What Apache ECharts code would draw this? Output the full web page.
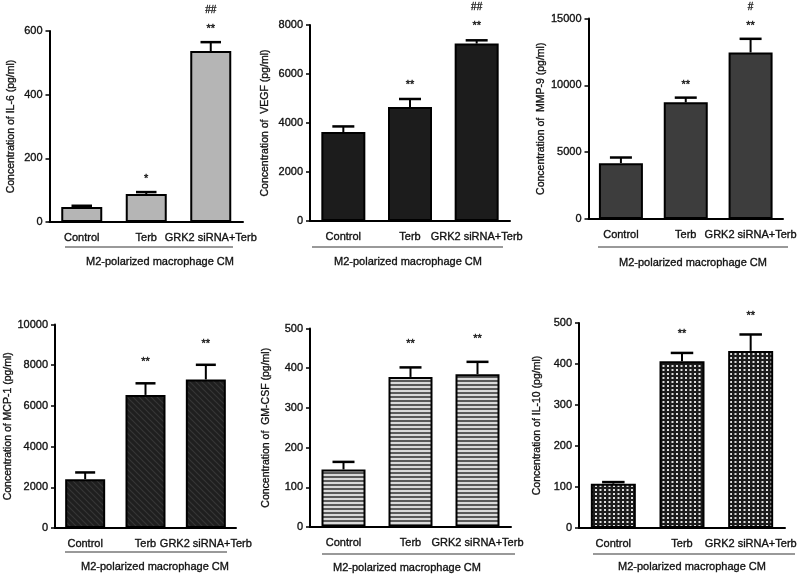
<!DOCTYPE html>
<html>
<head>
<meta charset="utf-8">
<script src="https://cdn.jsdelivr.net/npm/echarts@6/dist/echarts.min.js"></script>
<style>
html,body{margin:0;padding:0;background:#fff;}
#chart{width:808px;height:576px;}
</style>
</head>
<body>
<div id="chart"></div>
<script>
// ---------- DATA ----------
const categories = ['Control', 'Terb', 'GRK2 siRNA+Terb'];
const groupLabel = 'M2-polarized macrophage CM';

const il6Mean = [47, 88, 537];
const il6Err = [4, 6, 28];
const il6Stars = ['', '*', '**'];
const il6Hash = ['', '', '##'];
const il6Ticks = [0, 200, 400, 600];

const vegfMean = [3630, 4650, 7240];
const vegfErr = [230, 330, 135];
const vegfStars = ['', '**', '**'];
const vegfHash = ['', '', '##'];
const vegfTicks = [0, 2000, 4000, 6000, 8000];

const mmp9Mean = [4180, 8730, 12460];
const mmp9Err = [420, 350, 1020];
const mmp9Stars = ['', '**', '**'];
const mmp9Hash = ['', '', '#'];
const mmp9Ticks = [0, 5000, 10000, 15000];

const mcp1Mean = [2400, 6540, 7300];
const mcp1Err = [330, 570, 720];
const mcp1Stars = ['', '**', '**'];
const mcp1Hash = ['', '', ''];
const mcp1Ticks = [0, 2000, 4000, 6000, 8000, 10000];

const gmcsfMean = [145, 378, 385];
const gmcsfErr = [19, 24, 31];
const gmcsfStars = ['', '**', '**'];
const gmcsfHash = ['', '', ''];
const gmcsfTicks = [0, 100, 200, 300, 400, 500];

const il10Mean = [108, 407, 432];
const il10Err = [4, 20, 40];
const il10Stars = ['', '**', '**'];
const il10Hash = ['', '', ''];
const il10Ticks = [0, 100, 200, 300, 400, 500];

const yTitles = [
  'Concentration of IL-6 (pg/ml)',
  'Concentration of  VEGF (pg/ml)',
  'Concentration of  MMP-9 (pg/ml)',
  'Concentration of MCP-1 (pg/ml)',
  'Concentration of  GM-CSF (pg/ml)',
  'Concentration of IL-10 (pg/ml)'
];

// ---------- FILL PATTERNS ----------
function tile(w, h, draw) {
  const c = document.createElement('canvas');
  c.width = w; c.height = h;
  draw(c.getContext('2d'));
  return c;
}
const hatch = tile(6, 6, ctx => {
  ctx.fillStyle = '#1f1f1f'; ctx.fillRect(0, 0, 6, 6);
  ctx.strokeStyle = '#363636'; ctx.lineWidth = 1.2;
  ctx.beginPath();
  ctx.moveTo(-1, -1); ctx.lineTo(7, 7);
  ctx.moveTo(-4, 2); ctx.lineTo(4, 10);
  ctx.moveTo(2, -4); ctx.lineTo(10, 4);
  ctx.stroke();
});
const stripes = tile(4, 4, ctx => {
  ctx.fillStyle = '#dadada'; ctx.fillRect(0, 0, 4, 4);
  ctx.fillStyle = '#5a5a5a'; ctx.fillRect(0, 0, 4, 2);
});
const checks = tile(9, 8, ctx => {
  ctx.fillStyle = '#1c1c1c'; ctx.fillRect(0, 0, 9, 8);
  ctx.fillStyle = '#dedede';
  ctx.fillRect(1, 1, 2, 2); ctx.fillRect(5.5, 1, 2, 2);
  ctx.fillRect(1, 5, 2, 2); ctx.fillRect(5.5, 5, 2, 2);
});

// ---------- LAYOUT ----------
const FONT = "'Liberation Sans', Arial, sans-serif";
const TXT = {fontSize: 11, color: '#111', fontFamily: FONT, textBorderColor: '#222', textBorderWidth: 0.35};
const panels = [
  {mean: il6Mean, err: il6Err, stars: il6Stars, hash: il6Hash, ticks: il6Ticks,
   fill: '#b5b5b5', grid: {left: 49.5, top: 31, width: 193.5, height: 191}, barW: 41,
   nameGap: 33, starGap: 13, ul: [65, 233, 247], txt: [160, 262]},
  {mean: vegfMean, err: vegfErr, stars: vegfStars, hash: vegfHash, ticks: vegfTicks,
   fill: '#1c1c1c', grid: {left: 310, top: 25, width: 200, height: 196}, barW: 44,
   nameGap: 39, starGap: 14, ul: [312, 503, 247], txt: [408, 262]},
  {mean: mmp9Mean, err: mmp9Err, stars: mmp9Stars, hash: mmp9Hash, ticks: mmp9Ticks,
   fill: '#3d3d3d', grid: {left: 588.5, top: 18.5, width: 194.5, height: 200.5}, barW: 44,
   nameGap: 42, starGap: 13, ul: [598, 788, 247], txt: [693, 263]},
  {mean: mcp1Mean, err: mcp1Err, stars: mcp1Stars, hash: mcp1Hash, ticks: mcp1Ticks,
   fill: {image: hatch, repeat: 'repeat'}, grid: {left: 55, top: 324.5, width: 181, height: 203.5}, barW: 40,
   nameGap: 41, starGap: 21, ul: [65, 227, 552], txt: [155, 567]},
  {mean: gmcsfMean, err: gmcsfErr, stars: gmcsfStars, hash: gmcsfHash, ticks: gmcsfTicks,
   fill: {image: stripes, repeat: 'repeat'}, grid: {left: 310, top: 328.5, width: 201, height: 198.5}, barW: 44,
   nameGap: 38, starGap: 23, ul: [322, 515, 554], txt: [407, 568]},
  {mean: il10Mean, err: il10Err, stars: il10Stars, hash: il10Hash, ticks: il10Ticks,
   fill: {image: checks, repeat: 'repeat'}, grid: {left: 579, top: 323, width: 206, height: 205}, barW: 45,
   nameGap: 36, starGap: 19, ul: [593, 795, 554], txt: [692, 567]}
];

const grids = [], xAxes = [], yAxes = [], series = [], graphics = [];
panels.forEach((p, k) => {
  grids.push(Object.assign({containLabel: false}, p.grid));
  xAxes.push({
    type: 'category', gridIndex: k, data: categories,
    axisLine: {lineStyle: {color: '#000', width: 2}},
    axisTick: {alignWithLabel: true, length: 5, lineStyle: {color: '#000', width: 1.5}},
    axisLabel: Object.assign({interval: 0, margin: 10}, TXT)
  });
  const t = p.ticks;
  yAxes.push({
    type: 'value', gridIndex: k, min: t[0], max: t[t.length - 1], interval: t[1] - t[0],
    name: yTitles[k], nameLocation: 'middle', nameRotate: 90, nameGap: p.nameGap,
    nameTextStyle: Object.assign({}, TXT, {fontSize: 10.5}),
    axisLine: {show: true, lineStyle: {color: '#000', width: 2}},
    axisTick: {show: true, length: 4, lineStyle: {color: '#000', width: 1.5}},
    axisLabel: Object.assign({margin: 7, formatter: v => String(v)}, TXT),
    splitLine: {show: false}
  });
  series.push({
    type: 'bar', xAxisIndex: k, yAxisIndex: k, data: p.mean, barWidth: p.barW,
    itemStyle: {color: p.fill, borderColor: '#000', borderWidth: 2},
    silent: true, animation: false
  });
  series.push({
    type: 'custom', xAxisIndex: k, yAxisIndex: k, clip: false, animation: false, silent: true,
    data: p.mean.map((m, i) => [i, m, p.err[i]]),
    z: 5,
    renderItem: (params, api) => {
      const i = params.dataIndex;
      const x = api.value(0), m = api.value(1), e = api.value(2);
      const b = api.coord([x, m]);
      const tp = api.coord([x, m + e]);
      const cap = p.barW * 0.5;
      const ch = [
        {type: 'line', shape: {x1: b[0], y1: b[1], x2: tp[0], y2: tp[1]}, style: {stroke: '#000', lineWidth: 2}},
        {type: 'line', shape: {x1: tp[0] - cap / 2, y1: tp[1], x2: tp[0] + cap / 2, y2: tp[1]}, style: {stroke: '#000', lineWidth: 2.5}}
      ];
      if (p.stars[i]) ch.push({type: 'text', x: tp[0], y: tp[1] - p.starGap,
        style: {text: p.stars[i], fontSize: 11, fontFamily: FONT, fill: '#111', stroke: '#222', lineWidth: 0.35, align: 'center', verticalAlign: 'middle'}});
      if (p.hash[i]) ch.push({type: 'text', x: tp[0], y: tp[1] - p.starGap - 19,
        style: {text: p.hash[i], fontSize: 10, fontFamily: FONT, fill: '#111', stroke: '#222', lineWidth: 0.3, align: 'center', verticalAlign: 'middle'}});
      return {type: 'group', children: ch};
    }
  });
  graphics.push({type: 'line', silent: true,
    shape: {x1: p.ul[0], y1: p.ul[2], x2: p.ul[1], y2: p.ul[2]},
    style: {stroke: '#777', lineWidth: 1.5}});
  graphics.push({type: 'text', silent: true, x: p.txt[0], y: p.txt[1],
    style: {text: groupLabel, fontSize: 11, fontFamily: FONT, fill: '#111', stroke: '#222', lineWidth: 0.35, align: 'center', verticalAlign: 'middle'}});
});

const chart = echarts.init(document.getElementById('chart'), null, {renderer: 'canvas'});
chart.setOption({
  animation: false,
  backgroundColor: '#fff',
  grid: grids, xAxis: xAxes, yAxis: yAxes, series: series, graphic: graphics
});
</script>
</body>
</html>
